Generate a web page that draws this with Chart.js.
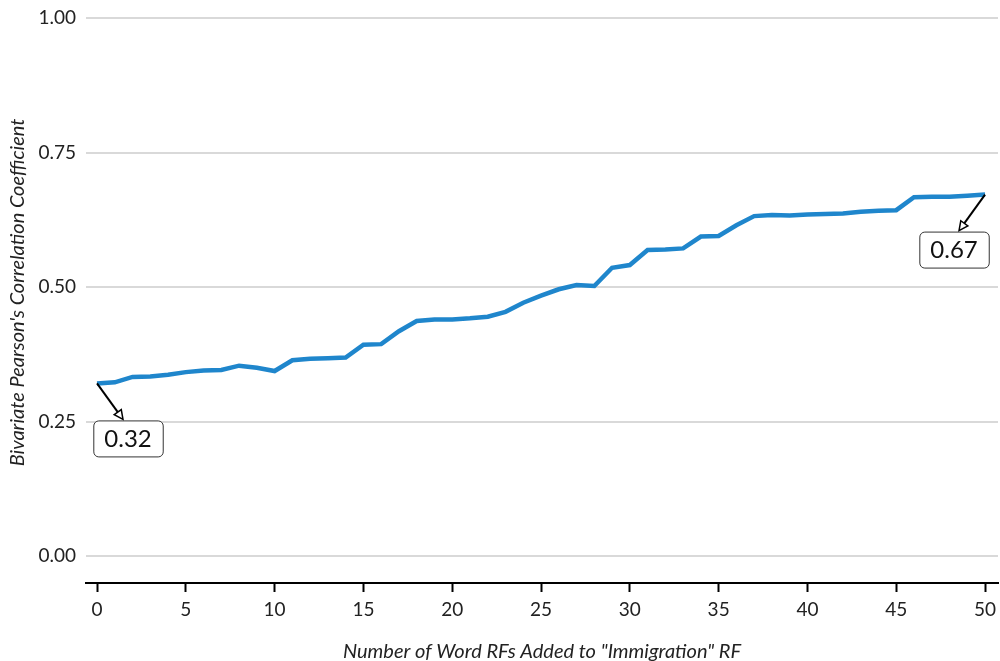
<!DOCTYPE html>
<html>
<head>
<meta charset="utf-8">
<script src="https://cdn.jsdelivr.net/npm/chart.js@4.4.1/dist/chart.umd.min.js"></script>
<style>
  html, body { margin: 0; padding: 0; background: #fff; }
  #wrap { width: 1000px; height: 661px; }
</style>
</head>
<body>
<div id="wrap"><canvas id="corrChart" width="1000" height="661"></canvas></div>
<script>
// number of word RFs added (x) and the resulting correlation (y)
let wordsAdded = [0, 1, 2, 3, 4, 5, 6, 7, 8, 9, 10, 11, 12, 13, 14, 15, 16, 17, 18, 19, 20,
    21, 22, 23, 24, 25, 26, 27, 28, 29, 30, 31, 32, 33, 34, 35, 36, 37, 38, 39, 40,
    41, 42, 43, 44, 45, 46, 47, 48, 49, 50];
let corrValues = [0.321, 0.323, 0.333, 0.334, 0.337, 0.342, 0.345, 0.346, 0.354, 0.350, 0.344,
    0.364, 0.367, 0.368, 0.369, 0.393, 0.394, 0.418, 0.437, 0.440, 0.440,
    0.442, 0.445, 0.454, 0.471, 0.484, 0.496, 0.504, 0.502, 0.536, 0.541,
    0.569, 0.570, 0.572, 0.594, 0.595, 0.615, 0.632, 0.634, 0.633, 0.635,
    0.636, 0.637, 0.640, 0.642, 0.643, 0.667, 0.668, 0.668, 0.670, 0.672];

let xTicks = [0, 5, 10, 15, 20, 25, 30, 35, 40, 45, 50];
let yTicks = [0, 0.25, 0.5, 0.75, 1];

let labelledPoints = [0, 50]; // indexes that get a boxed label
let labelOffsets = [[31, 37], [-31, 37]]; // box top-centre offset from the point, px

let xTitle = 'Number of Word RFs Added to "Immigration" RF';
let yTitle = "Bivariate Pearson's Correlation Coefficient";

let textColor = '#222222';
let lineColor = '#1f86cc';

// draws the arrows + boxed labels (like ggrepel)
const labelPlugin = {
    id: 'pointLabels',
    afterDatasetsDraw(chart) {
        const ctx = chart.ctx;
        const xs = chart.scales.x, ys = chart.scales.y;
        ctx.save();
        ctx.font = '24px Lato';
        labelledPoints.forEach(function (idx, i) {
            let px = xs.getPixelForValue(wordsAdded[idx]);
            let py = ys.getPixelForValue(corrValues[idx]);
            let bx = px + labelOffsets[i][0];
            let by = py + labelOffsets[i][1];
            let text = corrValues[idx].toFixed(2);
            let w = ctx.measureText(text).width + 22;
            let h = 36;

            // arrow
            let tx = bx - Math.sign(labelOffsets[i][0]) * 5;
            let ty = by - 1;
            let ang = Math.atan2(ty - py, tx - px);
            ctx.strokeStyle = '#000';
            ctx.lineWidth = 2;
            ctx.beginPath();
            ctx.moveTo(px, py);
            ctx.lineTo(tx - Math.cos(ang) * 8, ty - Math.sin(ang) * 8);
            ctx.stroke();
            ctx.beginPath();
            ctx.moveTo(tx, ty);
            ctx.lineTo(tx - Math.cos(ang - 0.45) * 10, ty - Math.sin(ang - 0.45) * 10);
            ctx.lineTo(tx - Math.cos(ang + 0.45) * 10, ty - Math.sin(ang + 0.45) * 10);
            ctx.closePath();
            ctx.fillStyle = '#fff';
            ctx.fill();
            ctx.lineWidth = 1.5;
            ctx.stroke();

            // box
            let left = bx - w / 2;
            ctx.beginPath();
            ctx.roundRect(left + 0.5, by + 0.5, w, h, 5);
            ctx.fillStyle = '#fff';
            ctx.fill();
            ctx.strokeStyle = '#333';
            ctx.lineWidth = 1;
            ctx.stroke();

            ctx.fillStyle = '#111';
            ctx.textAlign = 'center';
            ctx.textBaseline = 'middle';
            ctx.fillText(text, bx, by + h / 2 + 1);
        });
        ctx.restore();
    }
};

const ctx = document.getElementById('corrChart').getContext('2d');
const chart = new Chart(ctx, {
    type: 'line',
    data: {
        datasets: [{
            data: wordsAdded.map((x, i) => ({ x: x, y: corrValues[i] })),
            borderColor: lineColor,
            borderWidth: 4.5,
            pointRadius: 0,
            tension: 0,
            fill: false
        }]
    },
    options: {
        responsive: false,
        animation: false,
        devicePixelRatio: 1,
        layout: { padding: { top: 2, right: 2, bottom: 0, left: 0 } },
        plugins: {
            legend: { display: false },
            tooltip: { enabled: false }
        },
        scales: {
            x: {
                type: 'linear',
                min: -0.62,
                max: 50.73,
                afterBuildTicks: function (scale) {
                    scale.ticks = xTicks.map(v => ({ value: v }));
                },
                afterFit: function (scale) {
                    scale.height = 78;
                    scale.paddingLeft = 0;
                    scale.paddingRight = 0;
                },
                grid: {
                    display: true,
                    drawOnChartArea: false,
                    drawTicks: true,
                    tickLength: 9,
                    tickColor: '#000',
                    tickWidth: 2
                },
                border: { display: true, color: '#000', width: 2 },
                ticks: {
                    color: textColor,
                    font: { family: 'Lato', size: 19 },
                    padding: 6,
                    maxRotation: 0,
                    callback: v => String(v)
                },
                title: {
                    display: true,
                    text: xTitle,
                    color: textColor,
                    font: { family: 'Lato', size: 20, style: 'italic', lineHeight: 0.9 },
                    padding: { top: 0, bottom: 0 }
                }
            },
            y: {
                type: 'linear',
                min: -0.05,
                max: 1.03,
                afterBuildTicks: function (scale) {
                    scale.ticks = yTicks.map(v => ({ value: v }));
                },
                afterFit: function (scale) {
                    scale.width = 86;
                    scale.paddingTop = 0;
                    scale.paddingBottom = 0;
                },
                grid: {
                    color: '#d9d9d9',
                    lineWidth: 2,
                    drawTicks: false
                },
                border: { display: false },
                ticks: {
                    color: textColor,
                    font: { family: 'Lato', size: 19 },
                    padding: 10,
                    callback: v => v.toFixed(2)
                },
                title: {
                    display: true,
                    text: yTitle,
                    color: textColor,
                    font: { family: 'Lato', size: 20, style: 'italic', lineHeight: 1 },
                    padding: { top: 8, bottom: 0 }
                }
            }
        }
    },
    plugins: [labelPlugin]
});
</script>
</body>
</html>
